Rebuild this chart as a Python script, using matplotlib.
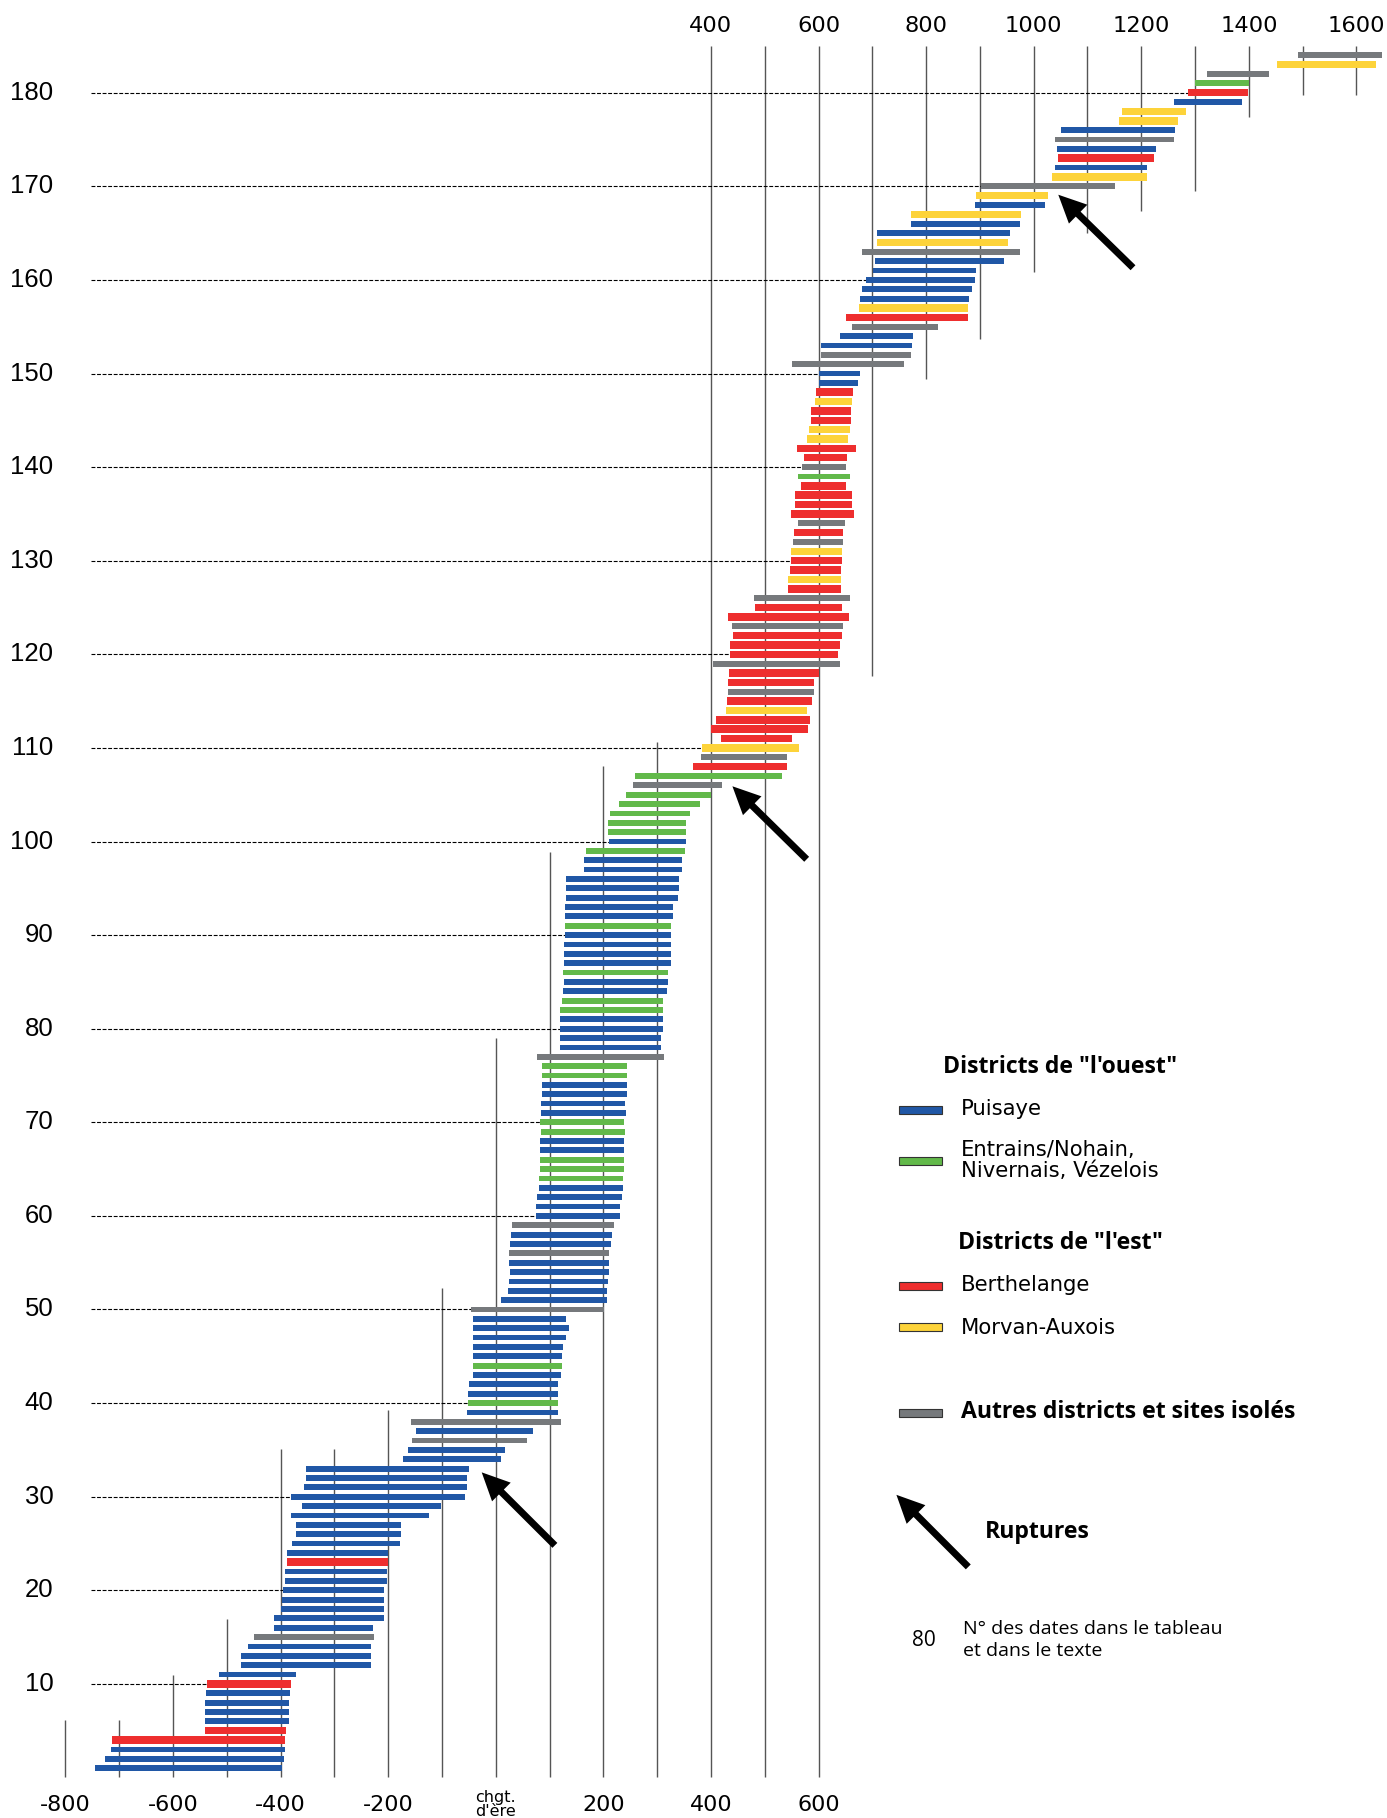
import matplotlib
matplotlib.use("Agg")
import matplotlib.pyplot as plt
from matplotlib.patches import FancyArrowPatch, Rectangle

# dates (start / end years) for each numbered sample, bottom to top
starts = [-744, -727, -716, -713, -541, -540, -540, -540, -538, -536,
          -515, -473, -473, -460, -450, -413, -413, -400, -398, -396,
          -391, -391, -388, -388, -378, -371, -371, -380, -360, -380,
          -356, -352, -352, -172, -163, -155, -148, -157, -53, -51,
          -51, -49, -42, -42, -42, -42, -42, -42, -42, -45,
          10, 22, 25, 27, 25, 25, 27, 28, 30, 75,
          75, 77, 81, 81, 82, 82, 82, 82, 84, 82,
          84, 84, 86, 86, 86, 86, 77, 120, 120, 120,
          120, 120, 124, 125, 127, 125, 127, 127, 127, 129,
          129, 129, 129, 131, 131, 131, 165, 165, 168, 211,
          209, 209, 213, 230, 243, 256, 258, 367, 382, 384,
          419, 401, 410, 428, 430, 432, 432, 434, 404, 436,
          436, 441, 440, 432, 482, 481, 544, 544, 547, 549,
          549, 552, 554, 561, 548, 556, 556, 567, 561, 569,
          573, 560, 578, 582, 586, 586, 593, 595, 601, 600,
          550, 604, 604, 640, 662, 651, 675, 677, 681, 688,
          701, 705, 681, 709, 709, 772, 772, 891, 892, 902,
          1034, 1040, 1045, 1044, 1040, 1051, 1159, 1165, 1261, 1286,
          1299, 1323, 1453, 1491]
ends = [-398, -394, -391, -391, -389, -385, -385, -385, -382, -380,
        -372, -231, -231, -231, -227, -229, -207, -207, -207, -207,
        -202, -202, -200, -200, -177, -176, -176, -124, -101, -57,
        -53, -53, -49, 9, 18, 59, 70, 122, 116, 116,
        116, 116, 122, 124, 124, 126, 131, 137, 131, 202,
        206, 206, 208, 211, 211, 211, 215, 216, 220, 231,
        231, 235, 237, 237, 239, 239, 239, 239, 241, 239,
        242, 241, 244, 244, 244, 244, 313, 308, 308, 311,
        311, 311, 311, 319, 321, 321, 326, 326, 326, 326,
        326, 330, 330, 339, 341, 341, 347, 347, 351, 354,
        354, 354, 362, 380, 401, 421, 533, 542, 542, 563,
        550, 581, 585, 579, 587, 592, 592, 601, 640, 637,
        640, 644, 646, 657, 644, 659, 642, 642, 642, 644,
        644, 645, 645, 649, 666, 662, 662, 651, 658, 651,
        653, 670, 655, 658, 660, 660, 662, 664, 673, 677,
        759, 772, 774, 776, 822, 878, 878, 880, 886, 891,
        893, 945, 975, 953, 956, 975, 977, 1021, 1027, 1151,
        1211, 1211, 1224, 1228, 1261, 1263, 1269, 1284, 1388, 1399,
        1401, 1438, 1636, 1647]
# P Puisaye, E Entrains/Nohain..., B Berthelange, M Morvan-Auxois, A autres
districts = ("PPPBBPPPPB" "PPPPAPPPPP" "PPBPPPPPPP" "PPPPPAPAPE"
             "PPPEPPPPPA" "PPPPPAPPAP" "PPPEEEPPEE" "PPPPEEAPPP"
             "PEEPPEPPPP" "EPPPPPPPEP" "EEEEEAEBAM" "BBBMBABBAB"
             "BBABBABMBB" "MABABBBBEA" "BBMMBBMBPP" "AAPPABMPPP"
             "PPAMPPMPMA" "MPBPAPMMPB" "EAMA")

colors = {"P": "#2057a6", "E": "#62b94a", "B": "#ee2e2e",
          "M": "#fdd33a", "A": "#76797c"}
labels = {"P": "Puisaye", "B": "Berthelange", "M": "Morvan-Auxois",
          "A": "Autres districts et sites isolés"}

bottom_ticks = [-800, -600, -400, -200, 200, 400, 600]
top_ticks = [400, 600, 800, 1000, 1200, 1400, 1600]
y_ticks = list(range(10, 181, 10))

# century lines and their vertical extent (in sample numbers)
grid_years = [-800, -700, -600, -500, -400, -300, -200, -100, 0, 100, 200,
              300, 400, 500, 600, 700, 800, 900, 1000, 1100, 1200, 1300,
              1400, 1500, 1600]
grid_lo = [0, 0, 0, 0, 0, 0, 0, 0, 0, 0, 0, 0, 0, 0, 0,
           117.7, 149.4, 153.7, 160.8, 165.0, 167.4, 169.5, 177.4, 179.8, 179.8]
grid_hi = [6.1, 6.1, 11.0, 16.9, 35.1, 35.1, 39.3, 52.3, 79.0, 98.9, 108.1,
           110.6, 185, 185, 185, 185, 185, 185, 185, 185, 185, 185, 185, 185, 185]

# "ruptures": (tail year, tail n°, head year, head n°)
ruptures = [(110, 24.8, -26, 32.6),
            (578, 98.1, 440, 105.9),
            (1184.6, 161.3, 1045.7, 169.1)]

W, H = 1387, 1818
fig = plt.figure(figsize=(W / 100, H / 100), dpi=100)
ax = fig.add_axes([0, 0, 1, 1])
ax.set_xlim(-921.4, 1656.7)
ax.set_ylim(-4.327, 189.904)
ax.axis("off")

n = list(range(1, len(starts) + 1))

# vertical century lines
ax.vlines(grid_years, grid_lo, grid_hi, color="#555555", lw=1.0, zorder=1)

# dashed reference lines every 10 samples, up to the start of the bar
for t in y_ticks:
    ax.hlines(t, -752, starts[t - 1], color="black", lw=0.8,
              linestyles=(0, (3.5, 1.5)), zorder=1)
    ax.text(-822, t, str(t), ha="right", va="center", fontsize=18.5,
            family="Liberation Sans")

# bars
for i, s, e, d in zip(n, starts, ends, districts):
    h = 0.8 if d in "BM" else 0.62
    ax.barh(i, e - s, left=s, height=h, color=colors[d], lw=0, zorder=2)

# axis labels
for t in bottom_ticks:
    ax.text(t, -2.9, str(t), ha="center", va="center", fontsize=16,
            family="DejaVu Sans")
ax.text(0, -2.85, "chgt.\nd'ère", ha="center", va="center", fontsize=11.5,
        linespacing=0.9, family="DejaVu Sans")
for t in top_ticks:
    ax.text(t, 187.1, str(t), ha="center", va="center", fontsize=16.2,
            family="DejaVu Sans")

# rupture arrows
def arrow(x0, y0, x1, y1):
    ax.add_patch(FancyArrowPatch((x0, y0), (x1, y1),
                                 arrowstyle="simple,head_length=20,head_width=19,tail_width=5",
                                 mutation_scale=1, color="black", lw=0,
                                 shrinkA=0, shrinkB=0, zorder=3))

for r in ruptures:
    arrow(*r)

# legend (figure pixel positions)
def fxy(x, y):
    return x / W, 1 - y / H

def swatch(y, d):
    x0, y0 = fxy(899, y + 4)
    fig.patches.append(Rectangle((x0, y0), 42.7 / W, 8 / H,
                                 transform=fig.transFigure, facecolor=colors[d],
                                 edgecolor="#333333", lw=0.8))

bold = dict(family="Open Sans", fontweight="bold", fontsize=16.6, va="center")
reg = dict(family="DejaVu Sans", fontsize=15.2, va="center")

fig.text(*fxy(943, 1067), 'Districts de "l\'ouest"', **bold)
swatch(1110, "P")
fig.text(*fxy(961, 1108.7), labels["P"], **reg)
swatch(1161, "E")
fig.text(*fxy(961, 1150.4), "Entrains/Nohain,", **reg)
fig.text(*fxy(961, 1171.3), "Nivernais, Vézelois", **reg)
fig.text(*fxy(958, 1243), 'Districts de "l\'est"', **bold)
swatch(1286, "B")
fig.text(*fxy(961, 1285), labels["B"], **reg)
swatch(1327, "M")
fig.text(*fxy(961, 1328), labels["M"], **reg)
swatch(1412.5, "A")
fig.text(*fxy(961, 1412.5), labels["A"], **bold)

arrow(878.4, 22.5, 744.8, 30.2)
fig.text(*fxy(984.6, 1532), "Ruptures", **bold)

fig.text(*fxy(911.7, 1640), "80", family="Open Sans", fontsize=15, va="center")
fig.text(*fxy(962.5, 1629.4), "N° des dates dans le tableau", family="Open Sans",
         fontsize=14, va="center")
fig.text(*fxy(962.5, 1651.4), "et dans le texte", family="Open Sans",
         fontsize=14, va="center")

fig.savefig("out.png", dpi=100)
